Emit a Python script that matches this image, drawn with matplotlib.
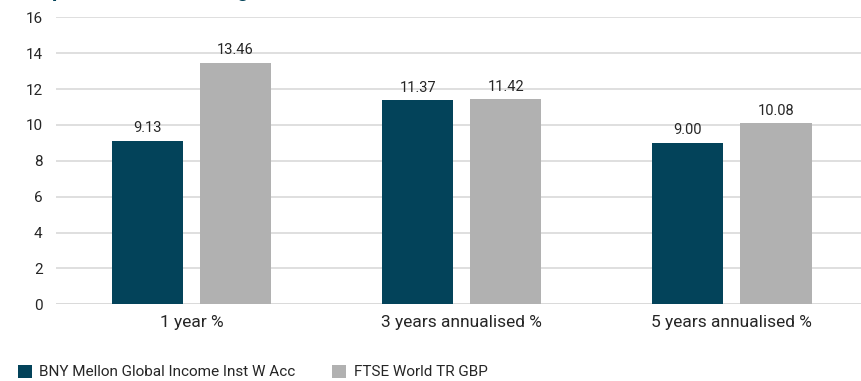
import matplotlib.pyplot as plt
import numpy as np

plt.rcParams["font.family"] = ["Roboto", "DejaVu Sans"]

# performance figures, in percent
periods = ["1 year %", "3 years annualised %", "5 years annualised %"]
fund_name = "BNY Mellon Global Income Inst W Acc"
index_name = "FTSE World TR GBP"
fund_returns = [9.13, 11.37, 9.00]
index_returns = [13.46, 11.42, 10.08]
y_ticks = [0, 2, 4, 6, 8, 10, 12, 14, 16]

fund_color = "#03435a"
index_color = "#b1b1b1"
text_color = "#262626"

fig = plt.figure(figsize=(8.61, 3.81), dpi=100)
ax = fig.add_axes([0.0656, 0.2013, 0.9414, 0.7533])

x = np.arange(len(periods))
width = 0.263
offset = 0.163

bars_fund = ax.bar(x - offset, fund_returns, width, color=fund_color, label=fund_name, zorder=3)
bars_index = ax.bar(x + offset, index_returns, width, color=index_color, label=index_name, zorder=3)

for bars in (bars_fund, bars_index):
    ax.bar_label(bars, fmt="%.2f", padding=4, fontsize=10.5, color=text_color)

ax.set_xlim(-0.5, 2.5)
ax.set_ylim(0, 16)
ax.set_yticks(y_ticks)
ax.set_xticks(x)
ax.set_xticklabels(periods, fontsize=12.5, color=text_color)
ax.tick_params(axis="y", length=0, pad=10, labelsize=11, labelcolor=text_color)
ax.tick_params(axis="x", length=0, pad=8)
ax.yaxis.grid(True, color="#d9d9d9", linewidth=1.2, zorder=0)
for side in ["top", "right", "left", "bottom"]:
    ax.spines[side].set_visible(False)
ax.axhline(0, color="#d9d9d9", linewidth=1.2, zorder=1)

# chart heading sits above the visible area
fig.text(0.0, 1.008, "Fund performance vs. target benchmark", fontsize=15, fontweight="bold",
         color=fund_color, va="baseline", ha="left")

fig.legend(handles=[bars_fund, bars_index], loc="lower left", bbox_to_anchor=(0.005, -0.032),
           ncol=2, frameon=False, fontsize=11, handlelength=0.9, handleheight=0.9,
           handletextpad=0.5, columnspacing=2.4, labelcolor=text_color)

fig.savefig("out.png", dpi=100)
